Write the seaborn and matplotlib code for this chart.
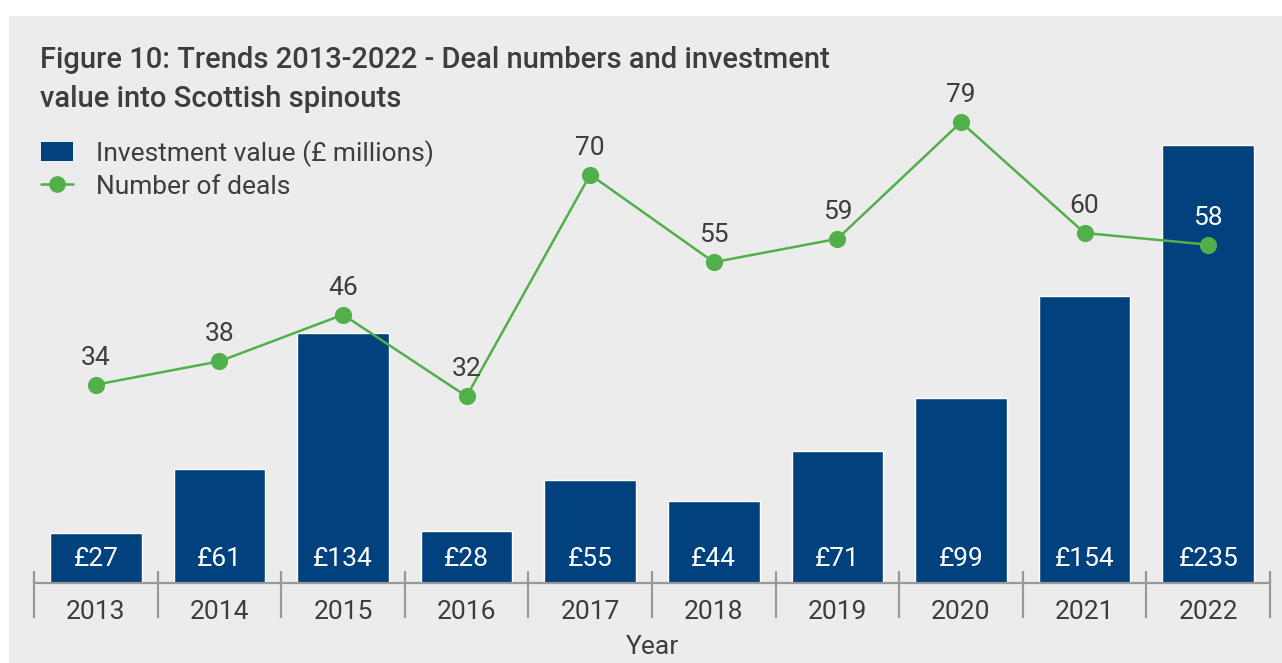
import numpy as np
import matplotlib
matplotlib.use('Agg')
import matplotlib.pyplot as plt
from matplotlib.patches import Rectangle
from matplotlib.lines import Line2D
import seaborn as sns

# --- Datos ---
years = ['2013', '2014', '2015', '2016', '2017', '2018', '2019', '2020', '2021', '2022']
investment = [27, 61, 134, 28, 55, 44, 71, 99, 154, 235]
deals = [34, 38, 46, 32, 70, 55, 59, 79, 60, 58]

title = 'Figure 10: Trends 2013-2022 - Deal numbers and investment\nvalue into Scottish spinouts'
bar_label = 'Investment value (£ millions)'
line_label = 'Number of deals'

BLUE = '#00417e'
GREEN = '#52b04a'
TEXT = '#3d3d3d'
AXIS = '#999999'
PANEL = '#ececec'

sns.set_style('white')
plt.rcParams['font.family'] = ['Roboto', 'DejaVu Sans']

W, H = 1282, 663
fig = plt.figure(figsize=(W / 100, H / 100), dpi=100, facecolor='white')

# panel gris de fondo
fig.patches.append(Rectangle((9 / W, 0), 1, (H - 16) / H, transform=fig.transFigure,
                             facecolor=PANEL, edgecolor='none', zorder=-1))

ax_bottom, ax_top = 583, 100
ax = fig.add_axes([34 / W, (H - ax_bottom) / H, (1270 - 34) / W, (ax_bottom - ax_top) / H])
ax.set_facecolor('none')
ax.set_zorder(1)

# --- Barras ---
sns.barplot(x=years, y=investment, color=BLUE, saturation=1, width=0.74, ax=ax)
ax.set_ylim(0, 259.1)
ax.set_xlim(-0.5, len(years) - 0.5)

for i, v in enumerate(investment):
    ax.annotate(f'£{v}', (i, 0), xytext=(0, 17.5), textcoords='offset points',
                ha='center', va='center', color='white', fontsize=19)

# --- Linea ---
ax2 = ax.twinx()
ax2.set_zorder(2)
ax2.set_facecolor('none')
sns.pointplot(x=years, y=deals, color=GREEN, markers='o', markersize=11,
              linewidth=1.8, ax=ax2)
ax2.set_ylim(0, 82.8)
ax2.set_xlim(-0.5, len(years) - 0.5)

for i, n in enumerate(deals):
    inside = n / ax2.get_ylim()[1] < investment[i] / ax.get_ylim()[1]
    ax2.annotate(str(n), (i, n), xytext=(0, 19.4), textcoords='offset points',
                 ha='center', va='center', color='white' if inside else TEXT, fontsize=19)

# --- Ejes ---
for a in (ax, ax2):
    for s in ('top', 'right', 'left'):
        a.spines[s].set_visible(False)
    a.set_yticks([])
    a.set_ylabel('')
ax2.spines['bottom'].set_visible(False)
ax.spines['bottom'].set_color(AXIS)
ax.spines['bottom'].set_linewidth(1.6)

ax.tick_params(axis='x', length=0, pad=12, labelsize=19, labelcolor=TEXT)
ax.set_xlabel('Year', fontsize=19, color=TEXT, labelpad=8)

bounds = np.arange(len(years) + 1) - 0.5
ax.vlines(bounds, -0.0725, 0.0248, transform=ax.get_xaxis_transform(),
          color=AXIS, linewidth=1.6, clip_on=False)

# --- Titulo y leyenda ---
fig.text(40 / W, 1 - 46 / H, title, ha='left', va='top', fontsize=21,
         fontweight='medium', color=TEXT, linespacing=1.5)

handles = [Rectangle((0, 0), 1, 1, facecolor=BLUE, edgecolor='none'),
           Line2D([], [], color=GREEN, marker='o', markersize=11, linewidth=1.8)]
leg = fig.legend(handles, [bar_label, line_label], loc='upper left',
                 bbox_to_anchor=(41 / W, 1 - 140 / H), frameon=False, borderpad=0,
                 borderaxespad=0, handlelength=1.2, handleheight=0.75,
                 handletextpad=0.9, labelspacing=0.3, fontsize=19)
for t in leg.get_texts():
    t.set_color(TEXT)

fig.savefig('out.png', dpi=100, facecolor='white')
